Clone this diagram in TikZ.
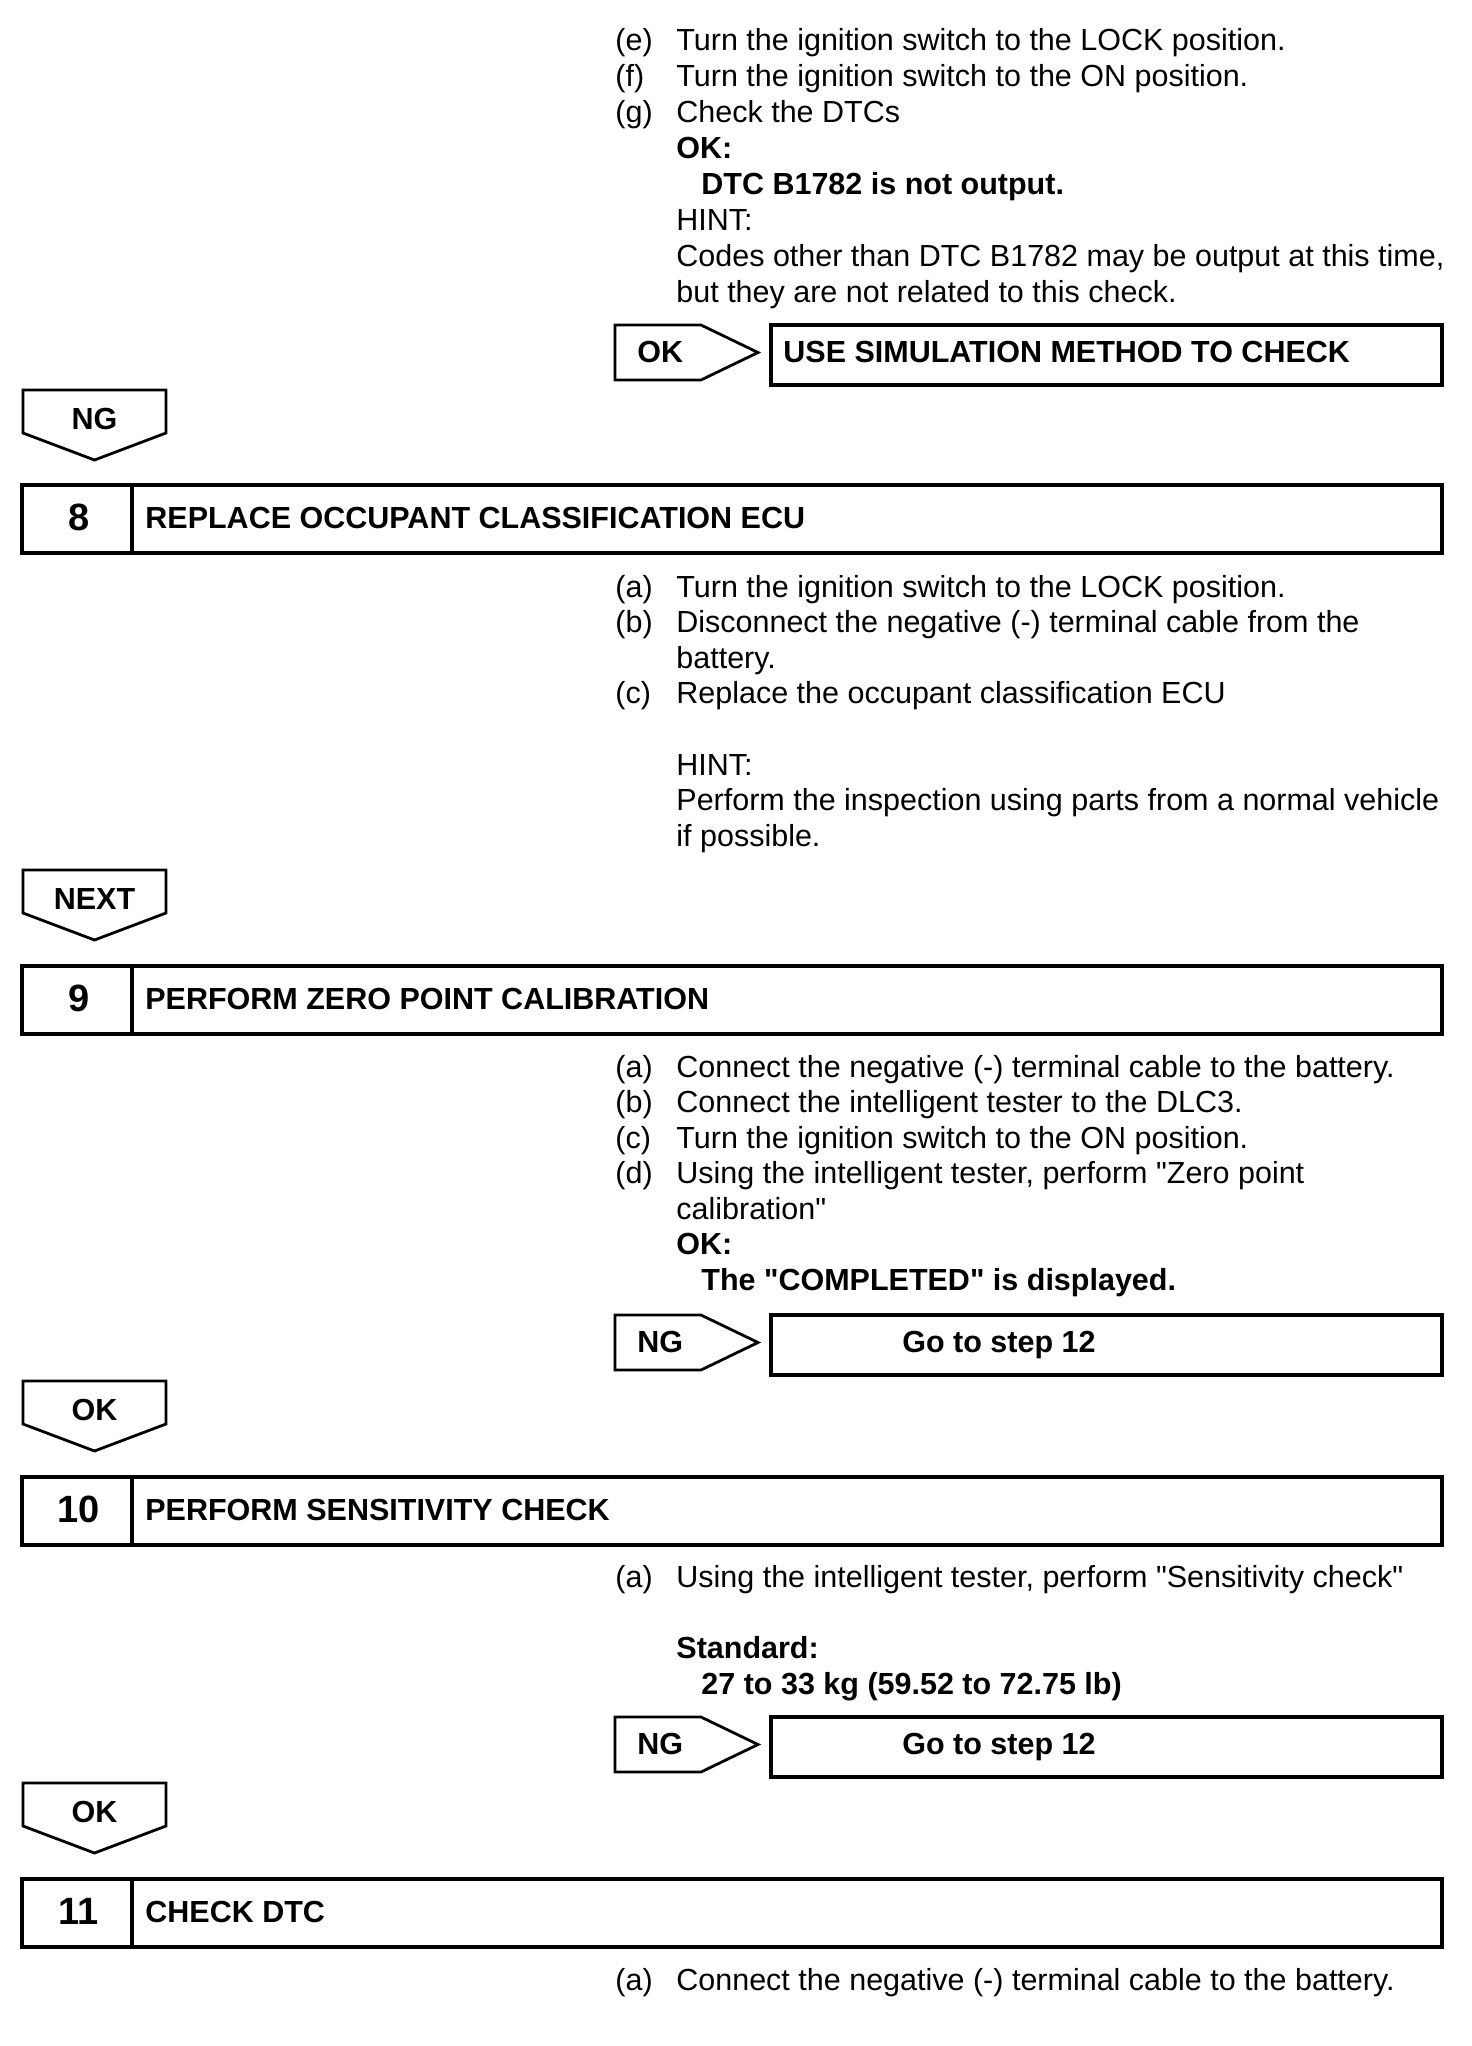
\documentclass[tikz,border=0pt]{standalone}
\usepackage{fontspec}
\setmainfont{Liberation Sans}[Ligatures=TeXOff]
\usepackage{tikz}
\newcommand{\lbl}[1]{\makebox[30.5pt][l]{#1}}

\tikzset{
  txt/.style={anchor=base west, inner sep=0pt, font=\fontsize{15.25}{18}\selectfont},
  btxt/.style={txt, font=\fontsize{15.25}{18}\selectfont\bfseries},
  numtxt/.style={anchor=base, inner sep=0pt, font=\fontsize{19}{22}\selectfont\bfseries},
  stepbox/.style={line width=1.8pt},
  tagline/.style={line width=1.4pt, line join=miter},
}

\begin{document}
\begin{tikzpicture}[x=0.5pt, y=-0.5pt]
  \useasboundingbox (0,0) rectangle (1472,2046);

  % step headers
  \foreach \t/\n/\ttl in {485/8/REPLACE OCCUPANT CLASSIFICATION ECU,
                          966/9/PERFORM ZERO POINT CALIBRATION,
                          1477/10/PERFORM SENSITIVITY CHECK,
                          1879/11/CHECK DTC} {
    \draw[stepbox] (22,\t) rectangle (1442,\t+68);
    \draw[stepbox] (132,\t) -- (132,\t+68);
    \node[numtxt] (num\n) at (79,\t+45) {\n};
    \node[btxt] (ttl\n) at (145,\t+43) {\ttl};
  }

  % result tags pointing down
  \foreach \t/\lab/\nm in {390/NG/d8, 870/NEXT/d9, 1381/OK/d10, 1783/OK/d11} {
    \draw[tagline] (23,\t) -- (166,\t) -- (166,\t+43) -- (94.5,\t+70)
                   -- (23,\t+43) -- cycle;
    \node[btxt, anchor=base] (tag\nm) at (94.5,\t+39) {\lab};
  }

  % result tags pointing right, with their boxes
  \foreach \t/\lab/\x/\res/\nm in {325/OK/783/USE SIMULATION METHOD TO CHECK/sim,
                                   1315/NG/902/Go to step 12/go9,
                                   1717/NG/902/Go to step 12/go10} {
    \draw[tagline] (615,\t) -- (701,\t) -- (758,\t+27.5) -- (701,\t+55)
                   -- (615,\t+55) -- cycle;
    \node[btxt] (tag\nm) at (637,\t+37) {\lab};
    \draw[stepbox] (771,\t) rectangle (1442,\t+60);
    \node[btxt] (res\nm) at (\x,\t+37) {\res};
  }

  % end of step 7
  \node[txt] (s7e) at (615,50) {\lbl{(e)}Turn the ignition switch to the LOCK position.};
  \node[txt] (s7f) at (615,86) {\lbl{(f)}Turn the ignition switch to the ON position.};
  \node[txt] (s7g) at (615,122) {\lbl{(g)}Check the DTCs};
  \node[btxt] (s7ok) at (676,158) {OK:};
  \node[btxt] (s7std) at (701,194) {DTC B1782 is not output.};
  \node[txt] (s7hint) at (676,230) {HINT:};
  \node[txt] (s7h1) at (676,266) {Codes other than DTC B1782 may be output at this time,};
  \node[txt] (s7h2) at (676,302) {but they are not related to this check.};

  % step 8
  \node[txt] (s8a) at (615,597) {\lbl{(a)}Turn the ignition switch to the LOCK position.};
  \node[txt] (s8b) at (615,632.6) {\lbl{(b)}Disconnect the negative (-) terminal cable from the};
  \node[txt] (s8b2) at (676,668.2) {battery.};
  \node[txt] (s8c) at (615,703.8) {\lbl{(c)}Replace the occupant classification ECU};
  \node[txt] (s8hint) at (676,775) {HINT:};
  \node[txt] (s8h1) at (676,810.6) {Perform the inspection using parts from a normal vehicle};
  \node[txt] (s8h2) at (676,846.2) {if possible.};

  % step 9
  \node[txt] (s9a) at (615,1077) {\lbl{(a)}Connect the negative (-) terminal cable to the battery.};
  \node[txt] (s9b) at (615,1112.5) {\lbl{(b)}Connect the intelligent tester to the DLC3.};
  \node[txt] (s9c) at (615,1148) {\lbl{(c)}Turn the ignition switch to the ON position.};
  \node[txt] (s9d) at (615,1183.5) {\lbl{(d)}Using the intelligent tester, perform "Zero point};
  \node[txt] (s9d2) at (676,1219) {calibration"};
  \node[btxt] (s9ok) at (676,1254.5) {OK:};
  \node[btxt] (s9std) at (701,1290) {The "COMPLETED" is displayed.};

  % step 10
  \node[txt] (s10a) at (615,1587) {\lbl{(a)}Using the intelligent tester, perform "Sensitivity check"};
  \node[btxt] (s10ok) at (676,1658) {Standard:};
  \node[btxt] (s10std) at (701,1694) {27 to 33 kg (59.52 to 72.75 lb)};

  % step 11
  \node[txt] (s11a) at (615,1990) {\lbl{(a)}Connect the negative (-) terminal cable to the battery.};
\end{tikzpicture}
\end{document}
